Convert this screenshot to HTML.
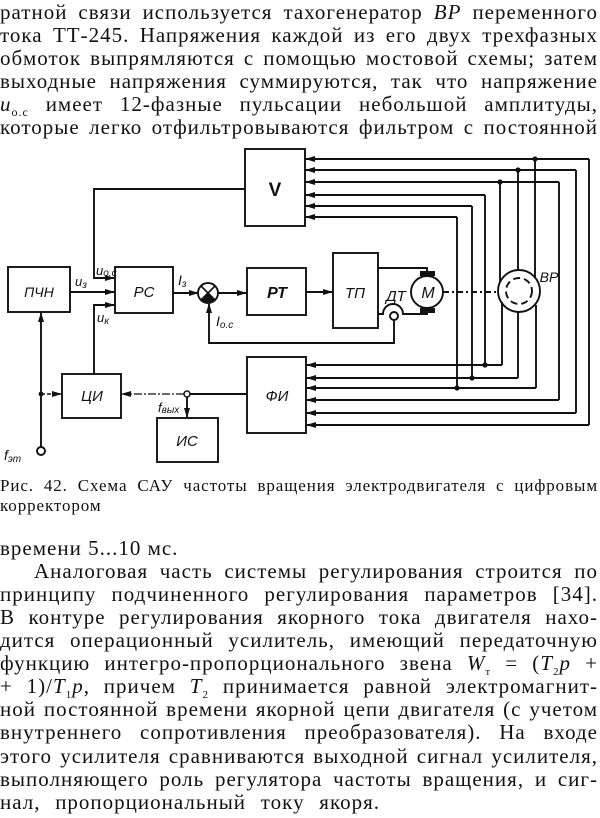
<!DOCTYPE html>
<html><head><meta charset="utf-8">
<style>
html,body{margin:0;padding:0;background:#fff;}
body{width:600px;height:818px;position:relative;overflow:hidden;font-family:"Liberation Serif","Noto Serif CJK SC",serif;color:#111;}
.ln{position:absolute;left:0;width:598px;font-size:21px;letter-spacing:1px;line-height:23px;height:23px;white-space:nowrap;text-align:justify;text-align-last:justify;}
.ln.l{text-align-last:left;}
.cap{position:absolute;left:0;width:598px;font-size:17px;letter-spacing:0.9px;line-height:20px;white-space:nowrap;text-align:justify;text-align-last:justify;}
svg{position:absolute;left:0;top:0;}
svg text{font-family:"Liberation Sans",sans-serif;font-style:italic;fill:#111;}
</style></head><body>

<div class="ln" style="top:1px">ратной связи используется тахогенератор <i>ВР</i> переменного</div>
<div class="ln" style="top:24px">тока ТТ-245. Напряжения каждой из его двух трехфазных</div>
<div class="ln" style="top:47px">обмоток выпрямляются с помощью мостовой схемы; затем</div>
<div class="ln" style="top:70px">выходные напряжения суммируются, так что напряжение</div>
<div class="ln" style="top:93px"><i>u</i><sub style="font-size:12px">о.с</sub> имеет 12-фазные пульсации небольшой амплитуды,</div>
<div class="ln" style="top:116px">которые легко отфильтровываются фильтром с постоянной</div>

<svg width="600" height="818" viewBox="0 0 600 818">
<defs>
<marker id="a" markerWidth="10" markerHeight="8" refX="9" refY="4" orient="auto" markerUnits="userSpaceOnUse">
<path d="M0,1 L10,4 L0,7 Z" fill="#111"/>
</marker>
</defs>
<g fill="none" stroke="#111" stroke-width="1.9">
<rect x="245" y="149" width="60" height="77"/>
<rect x="8" y="267" width="62" height="45"/>
<rect x="115" y="267" width="58" height="46"/>
<rect x="247" y="268" width="59" height="47"/>
<rect x="333" y="253" width="45" height="75"/>
<rect x="247" y="357" width="59" height="76"/>
<rect x="62" y="374" width="59" height="44"/>
<rect x="157" y="418" width="61" height="44"/>

<path d="M245,189 H94 V278 H114" marker-end="url(#a)"/>
<path d="M70,292 H114" marker-end="url(#a)"/>
<path d="M94,374 V305 H114" marker-end="url(#a)"/>
<path d="M173,293 H198" marker-end="url(#a)"/>
<path d="M218,293 H246" marker-end="url(#a)"/>
<path d="M306,292 H332" marker-end="url(#a)"/>

<circle cx="208" cy="293" r="10"/>
<path d="M201,286 L215,300 M215,286 L201,300" stroke-width="1.6"/>
<path d="M394,320 V343 H209 V304" marker-end="url(#a)"/>

<path d="M378,268 H427 V272"/>
<path d="M378,314 H383 A10,10 0 0 1 403,314 H427 V312"/>
<circle cx="394" cy="316" r="4" fill="#fff"/>
<circle cx="427" cy="292" r="16"/>
<path d="M443,292 H497" stroke-dasharray="6,3,2,3"/>
<circle cx="519" cy="291" r="21"/>
<circle cx="519" cy="291" r="13" stroke-dasharray="7,4"/>

<path d="M500,282 V182"/>
<path d="M518,270 V170"/>
<path d="M535,277 V159"/>
<path d="M502,302 V365"/>
<path d="M518,312 V378"/>
<path d="M536,305 V388"/>

<path d="M589,159 V425"/>
<path d="M576,170 V413"/>
<path d="M559,182 V400"/>
<path d="M485,195 V365"/>
<path d="M472,206 V378"/>
<path d="M457,217 V388"/>

<path d="M589,159 H306" marker-end="url(#a)"/>
<path d="M576,170 H306" marker-end="url(#a)"/>
<path d="M559,182 H306" marker-end="url(#a)"/>
<path d="M485,195 H306" marker-end="url(#a)"/>
<path d="M472,206 H306" marker-end="url(#a)"/>
<path d="M457,217 H306" marker-end="url(#a)"/>

<path d="M502,365 H307" marker-end="url(#a)"/>
<path d="M518,378 H307" marker-end="url(#a)"/>
<path d="M536,388 H307" marker-end="url(#a)"/>
<path d="M559,400 H307" marker-end="url(#a)"/>
<path d="M576,413 H307" marker-end="url(#a)"/>
<path d="M589,425 H307" marker-end="url(#a)"/>

<path d="M247,394 H190"/>
<path d="M184,394 H122" stroke-width="1.2" stroke-dasharray="8,2,2,2" marker-end="url(#a)"/>
<circle cx="187" cy="394" r="3" fill="#fff" stroke-width="1.5"/>
<path d="M187,397 V417" marker-end="url(#a)"/>

<circle cx="41" cy="451" r="4" fill="#fff"/>
<path d="M41,447 V313" marker-end="url(#a)"/>
<path d="M41,394 H61" stroke-width="1.4" stroke-dasharray="4,2" marker-end="url(#a)"/>
</g>
<g fill="#111" stroke="none">
<path d="M208,293 L201,300 A10,10 0 0 0 215,300 Z"/>
<rect x="420" y="271" width="15" height="5"/>
<rect x="420" y="308" width="15" height="5"/>
<circle cx="500" cy="182" r="2.6"/>
<circle cx="518" cy="170" r="2.6"/>
<circle cx="535" cy="159" r="2.6"/>
<circle cx="485" cy="365" r="2.6"/>
<circle cx="472" cy="378" r="2.6"/>
<circle cx="457" cy="388" r="2.6"/>
<circle cx="41" cy="394" r="2.4"/>
</g>

<text x="275" y="196" font-size="19" font-weight="bold" text-anchor="middle" style="font-style:normal">V</text>
<text x="39" y="297" font-size="14" text-anchor="middle">ПЧН</text>
<text x="144" y="297" font-size="15" text-anchor="middle">РС</text>
<text x="277" y="298" font-size="16" font-weight="bold" text-anchor="middle">РТ</text>
<text x="355" y="298" font-size="15" text-anchor="middle">ТП</text>
<text x="428" y="298" font-size="16" text-anchor="middle">М</text>
<text x="396" y="301" font-size="15" text-anchor="middle">ДТ</text>
<text x="549" y="282" font-size="14" text-anchor="middle">ВР</text>
<text x="277" y="401" font-size="15" text-anchor="middle">ФИ</text>
<text x="92" y="401" font-size="15" text-anchor="middle">ЦИ</text>
<text x="187" y="446" font-size="15" text-anchor="middle">ИС</text>

<text x="75" y="286" font-size="13">u<tspan font-size="10" dy="2">з</tspan></text>
<text x="96" y="275" font-size="13">u<tspan font-size="10" dy="1">о.с</tspan></text>
<text x="97" y="322" font-size="13">u<tspan font-size="10" dy="2">к</tspan></text>
<text x="178" y="285" font-size="14">I<tspan font-size="10" dy="2">з</tspan></text>
<text x="216" y="326" font-size="14">I<tspan font-size="10" dy="2">о.с</tspan></text>
<text x="158" y="412" font-size="13">f<tspan font-size="10" dy="1">вых</tspan></text>
<text x="4" y="460" font-size="14">f<tspan font-size="10" dy="2">эт</tspan></text>
</svg>

<div class="cap" style="top:476px">Рис. 42. Схема САУ частоты вращения электродвигателя с цифровым</div>
<div class="cap" style="top:496px;text-align-last:left">корректором</div>

<div class="ln l" style="top:537px">времени 5...10 мс.</div>
<div class="ln" style="top:560px;left:34px;width:564px">Аналоговая часть системы регулирования строится по</div>
<div class="ln" style="top:583px">принципу подчиненного регулирования параметров [34].</div>
<div class="ln" style="top:606px">В контуре регулирования якорного тока двигателя нахо-</div>
<div class="ln" style="top:629px">дится операционный усилитель, имеющий передаточную</div>
<div class="ln" style="top:652px">функцию интегро-пропорционального звена <i>W</i><sub style="font-size:11px">т</sub> = (<i>T</i><sub style="font-size:11px">2</sub><i>p</i> +</div>
<div class="ln" style="top:675px">+ 1)/<i>T</i><sub style="font-size:11px">1</sub><i>p</i>, причем <i>T</i><sub style="font-size:11px">2</sub> принимается равной электромагнит-</div>
<div class="ln" style="top:698px">ной постоянной времени якорной цепи двигателя (с учетом</div>
<div class="ln" style="top:721px">внутреннего сопротивления преобразователя). На входе</div>
<div class="ln" style="top:745px">этого усилителя сравниваются выходной сигнал усилителя,</div>
<div class="ln" style="top:768px">выполняющего роль регулятора частоты вращения, и сиг-</div>
<div class="ln" style="top:791px;width:380px">нал, пропорциональный току якоря.</div>

</body></html>
